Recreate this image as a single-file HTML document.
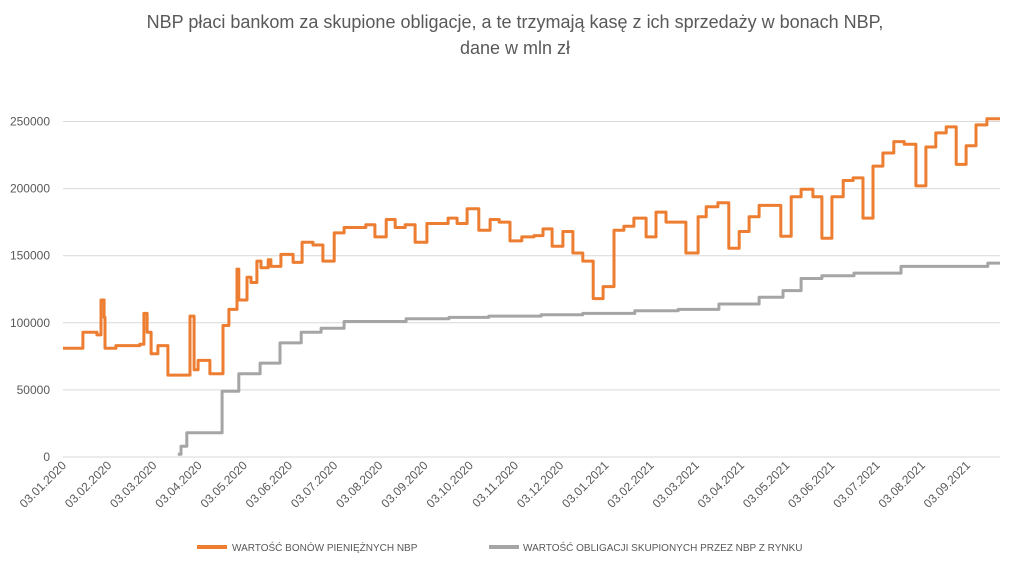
<!DOCTYPE html>
<html><head><meta charset="utf-8"><style>
body{margin:0;background:#fff;}
svg{display:block;font-family:"Liberation Sans",sans-serif;}
</style></head><body>
<svg id="chart" width="1024" height="561">
<text x="515" y="28" text-anchor="middle" font-size="18" fill="#595959">NBP płaci bankom za skupione obligacje, a te trzymają kasę z ich sprzedaży w bonach NBP,</text>
<text x="515" y="54" text-anchor="middle" font-size="18" fill="#595959">dane w mln zł</text>
<g id="grid"></g><g id="yticks"></g><g id="xticks"></g><g id="series"></g>
<g>
<line x1="197" y1="547" x2="227" y2="547" stroke="#ED7D31" stroke-width="4"/>
<text x="232" y="551" font-size="10" fill="#595959">WARTOŚĆ BONÓW PIENIĘŻNYCH NBP</text>
<line x1="489" y1="547" x2="519" y2="547" stroke="#A5A5A5" stroke-width="4"/>
<text x="523" y="551" font-size="10" fill="#595959">WARTOŚĆ OBLIGACJI SKUPIONYCH PRZEZ NBP Z RYNKU</text>
</g>
</svg>
<script>
const xLabels=["03.01.2020","03.02.2020","03.03.2020","03.04.2020","03.05.2020","03.06.2020","03.07.2020","03.08.2020","03.09.2020","03.10.2020","03.11.2020","03.12.2020","03.01.2021","03.02.2021","03.03.2021","03.04.2021","03.05.2021","03.06.2021","03.07.2021","03.08.2021","03.09.2021"];
const yTicks=[0,50000,100000,150000,200000,250000];
const endMonth=20.73;
const bonyMonths=[0,0.44,0.75,0.84,0.91,0.93,1.17,1.70,1.79,1.86,1.95,2.10,2.32,2.81,2.90,2.99,3.25,3.54,3.67,3.85,3.89,4.07,4.16,4.29,4.38,4.54,4.60,4.82,5.09,5.29,5.53,5.75,6.00,6.22,6.70,6.90,7.15,7.35,7.57,7.79,8.05,8.52,8.72,8.94,9.20,9.45,9.65,9.89,10.15,10.42,10.62,10.82,11.06,11.28,11.50,11.73,11.95,12.19,12.41,12.63,12.90,13.12,13.34,13.78,14.05,14.23,14.49,14.73,14.96,15.18,15.40,15.88,16.11,16.33,16.59,16.79,17.01,17.26,17.48,17.70,17.92,18.14,18.38,18.61,18.87,19.09,19.31,19.54,19.76,19.98,20.20,20.44];
const bonyValues=[81000,93000,91000,117000,104000,81000,83000,84000,107000,93000,77000,83000,61000,105000,65000,72000,62000,98000,110000,140000,117000,134000,130000,146000,141000,147000,142000,151000,145000,160000,158000,146000,167000,171000,173000,164000,177000,171000,173000,160000,174000,178000,174000,185000,169000,177000,175000,161000,164000,165000,170000,157000,168000,152000,146000,118000,127000,169000,172000,178000,164000,182500,175000,152000,179000,186500,189500,155500,168000,179000,187500,164500,194000,199500,194000,163000,194000,206000,208000,178000,216800,226500,235000,233000,202000,231000,241500,246000,218000,232000,247500,252000];
const oblMonths=[2.54,2.61,2.74,3.52,3.89,4.36,4.80,5.27,5.71,6.22,7.59,8.54,9.42,10.58,11.50,12.65,13.61,14.51,15.40,15.93,16.33,16.79,17.50,18.54,20.46];
const oblValues=[2000,8000,18000,49000,62000,70000,85000,93000,96000,101000,103000,104000,105000,106000,107000,109000,110000,114000,119000,124000,133000,135000,137000,142000,144500];
const NS="http://www.w3.org/2000/svg";
const X0=63,MW=45.2,Y0=457,YS=335.5/250000;
const xs=m=>X0+m*MW, ys=v=>Y0-v*YS;
function mk(t,a,p){const e=document.createElementNS(NS,t);for(const k in a)e.setAttribute(k,a[k]);p.appendChild(e);return e;}
const grid=document.getElementById('grid'),yt=document.getElementById('yticks'),xt=document.getElementById('xticks'),ser=document.getElementById('series');
yTicks.forEach(v=>{
 const l=mk('line',{x1:X0,x2:1000,y1:ys(v),y2:ys(v),stroke:'#D9D9D9','stroke-width':1},grid);
 
 
 const t=mk('text',{x:50,y:ys(v)+4,'text-anchor':'end','font-size':12,fill:'#595959'},yt);
 
 
 t.textContent=v;
});
xLabels.forEach((s,i)=>{
 const x=xs(i)+4,y=466;
 const t=mk('text',{x:x,y:y,'text-anchor':'end','font-size':12,fill:'#595959',transform:`rotate(-45 ${x} ${y})`},xt);
 
 
 t.textContent=s;
});
function step(ms,vs,col,name){
 let d='';
 for(let i=0;i<ms.length;i++){
  const nx=i+1<ms.length?ms[i+1]:endMonth;
  d+=(i?'L':'M')+xs(ms[i]).toFixed(1)+','+ys(vs[i]).toFixed(1)+'L'+xs(nx).toFixed(1)+','+ys(vs[i]).toFixed(1);
 }
 const p=mk('path',{d:d,fill:'none',stroke:col,'stroke-width':3,'stroke-linejoin':'round'},ser);
 
 
}
step(oblMonths,oblValues,'#A5A5A5','series-obligacje');
step(bonyMonths,bonyValues,'#ED7D31','series-bony');
</script>
</body></html>
